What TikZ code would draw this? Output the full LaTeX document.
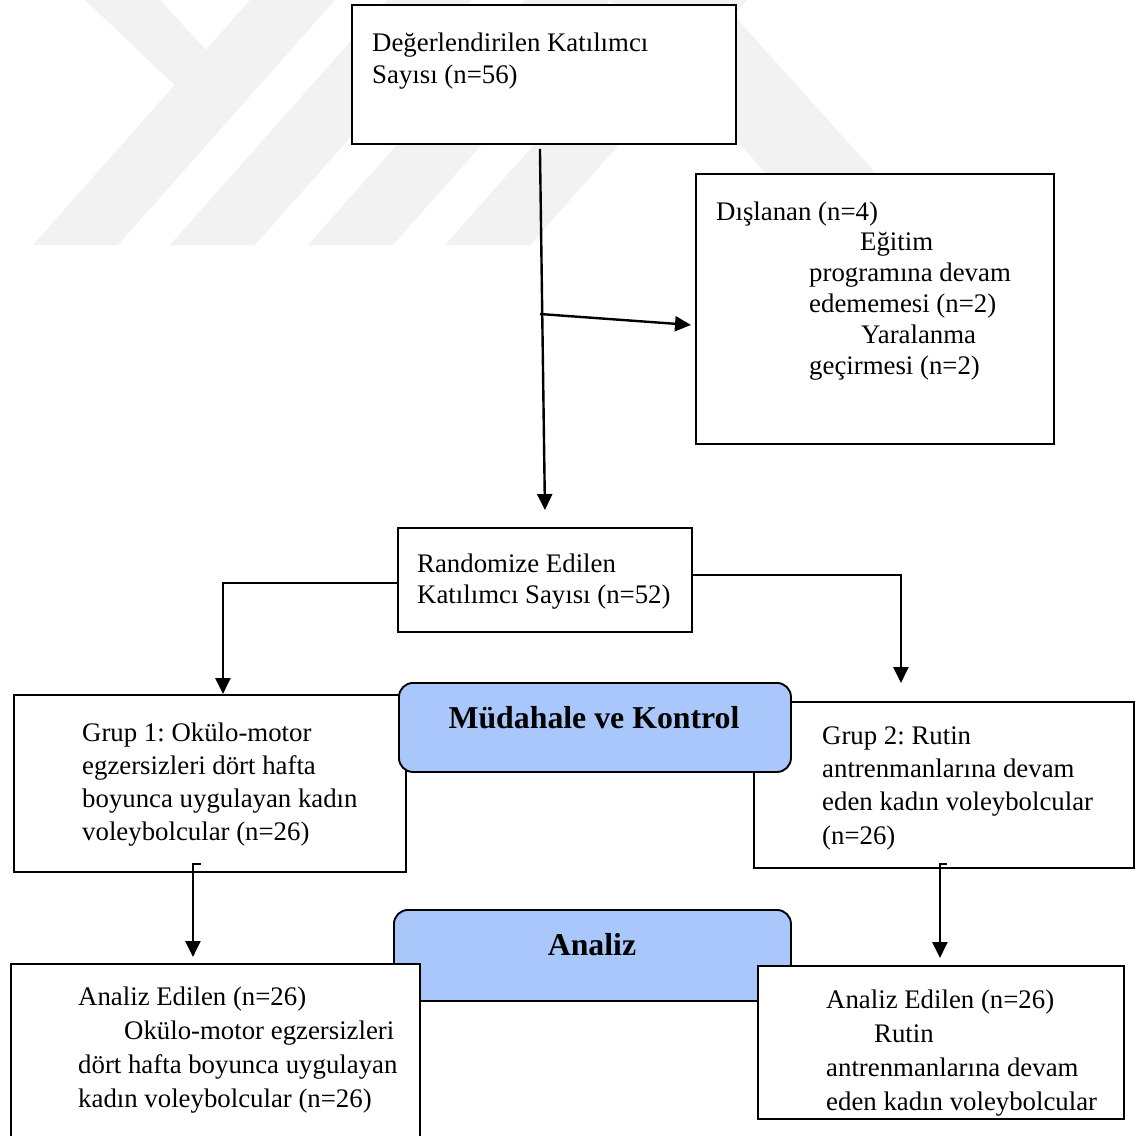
\documentclass[tikz,border=0pt]{standalone}
\usepackage{fontspec}
\setmainfont{Liberation Serif}
\usetikzlibrary{arrows.meta,calc}
\definecolor{hdr}{RGB}{169,199,250}
\definecolor{wm}{RGB}{242,242,242}
\frenchspacing
\begin{document}
\begin{tikzpicture}[x=1pt,y=-1pt,
  box/.style={draw,line width=1.9pt,fill=white,rectangle,inner sep=0pt,anchor=north west},
  hdrbox/.style={draw,line width=1.9pt,fill=hdr,rounded corners=14pt,rectangle,inner sep=0pt,anchor=north west},
  txt/.style={anchor=base west,align=left,inner sep=0pt},
  hdrtxt/.style={anchor=base,inner sep=0pt,font=\bfseries\fontsize{31.8}{36}\selectfont},
  arr/.style={line width=2.4pt,-{Triangle[length=16pt,width=15pt]}}]
\useasboundingbox (0,0) rectangle (1137,1135);
% watermark
\fill[wm] (33,245) -- (118,245) -- (335,0) -- (250,0) -- cycle;
\fill[wm] (85,0) -- (160,0) -- (215,60) -- (185,95) -- cycle;
\fill[wm] (170,245) -- (255,245) -- (472,0) -- (387,0) -- cycle;
\fill[wm] (308,245) -- (393,245) -- (610,0) -- (525,0) -- cycle;
\fill[wm] (445,245) -- (530,245) -- (747,0) -- (662,0) -- cycle;
\fill[wm] (610,0) -- (720,0) -- (900,200) -- (790,200) -- cycle;
% boxes
\node[box,minimum width=384pt,minimum height=139pt] (top) at (351,4) {};
\node[box,minimum width=358pt,minimum height=270pt] (excl) at (695,173) {};
\node[box,minimum width=294pt,minimum height=104pt] (rand) at (397,527) {};
\node[box,minimum width=392pt,minimum height=177pt] (g1) at (13,694) {};
\node[box,minimum width=380pt,minimum height=166pt] (g2) at (753,701) {};
\node[hdrbox,minimum width=392pt,minimum height=89pt] (mud) at (398,682) {};
\node[hdrbox,minimum width=397pt,minimum height=91pt] (anz) at (393,909) {};
\node[box,minimum width=409pt,minimum height=190pt] (a1) at (10,963) {};
\node[box,minimum width=366pt,minimum height=153pt] (a2) at (757,965) {};
% texts (anchor = baseline of last line)
\node[txt,font=\fontsize{26.8}{32}\selectfont] (topt) at (372,83) {Değerlendirilen Katılımcı\\Sayısı (n=56)};
\node[txt,font=\fontsize{26.8}{30.8}\selectfont] (exclt) at (716,374) {Dışlanan (n=4)\\\hspace*{144pt}Eğitim\\\hspace*{93pt}programına devam\\\hspace*{93pt}edememesi (n=2)\\\hspace*{145pt}Yaralanma\\\hspace*{93pt}geçirmesi (n=2)};
\node[txt,font=\fontsize{26.8}{31.5}\selectfont] (randt) at (417,603.5) {Randomize Edilen\\Katılımcı Sayısı (n=52)};
\node[txt,font=\fontsize{26.8}{33}\selectfont] (g1t) at (82,840) {Grup 1: Okülo-motor\\egzersizleri dört hafta\\boyunca uygulayan kadın\\voleybolcular (n=26)};
\node[txt,font=\fontsize{26.8}{33.3}\selectfont] (g2t) at (822,844) {Grup 2: Rutin\\antrenmanlarına devam\\eden kadın voleybolcular\\(n=26)};
\node[hdrtxt] (mudt) at (594,728) {Müdahale ve Kontrol};
\node[hdrtxt] (anzt) at (592,955) {Analiz};
\node[txt,font=\fontsize{26.8}{34}\selectfont] (a1t) at (78,1107) {Analiz Edilen (n=26)\\\hspace*{46pt}Okülo-motor egzersizleri\\dört hafta boyunca uygulayan\\kadın voleybolcular (n=26)};
\begin{scope}
\clip (757,965) rectangle (1123,1118);
\node[txt,font=\fontsize{26.8}{34}\selectfont] (a2t) at (826,1110) {Analiz Edilen (n=26)\\\hspace*{48pt}Rutin\\antrenmanlarına devam\\eden kadın voleybolcular};
\end{scope}
% connectors
\coordinate (jn) at (540,314);
\draw[arr] ([xshift=-4pt,yshift=-4pt]top.south) -- ([yshift=17pt]rand.north);
\draw[arr] (jn) -- ([xshift=-4pt,yshift=-16pt]excl.west);
\draw[arr] ([yshift=-3pt]rand.west) -| ([xshift=13pt]g1.north);
\draw[arr] ([yshift=5pt]rand.east) -| ([xshift=-43pt,yshift=18pt]g2.north);
\draw[arr] ([xshift=-9pt,yshift=9pt]g1.south) -- ++(-8,0) -- ([xshift=-22.5pt,yshift=6pt]a1.north);
\draw[arr] ([xshift=3pt,yshift=5pt]g2.south) -- ++(-7,0) -- ([xshift=-1pt,yshift=7pt]a2.north);
\end{tikzpicture}
\end{document}
